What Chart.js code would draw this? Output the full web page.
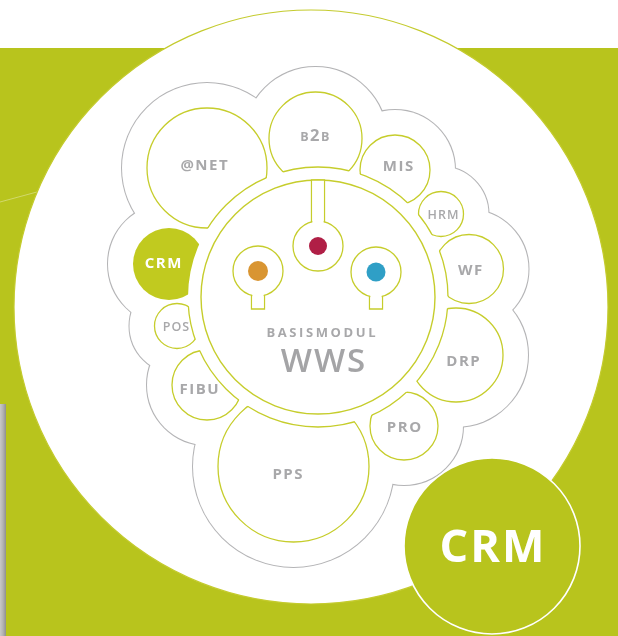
<!DOCTYPE html>
<html>
<head>
<meta charset="utf-8">
<script src="https://cdn.jsdelivr.net/npm/chart.js@4.4.1/dist/chart.umd.min.js"></script>
<style>
  html, body { margin: 0; padding: 0; background: #fff; }
  #wrap { width: 618px; height: 636px; }
</style>
</head>
<body>
<div id="wrap"><canvas id="chart" width="618" height="636"></canvas></div>
<script>
// --- diagram values (page units: x right, y down) ---
const moduleLabels = ['@NET', 'B2B', 'MIS', 'HRM', 'WF', 'DRP', 'PRO', 'PPS', 'FIBU', 'POS', 'CRM'];
const moduleX = [207, 315.5, 395, 441, 469, 456, 404, 293.5, 207, 177, 169];
const moduleY = [168, 138.5, 170, 214, 269, 355, 426, 466.5, 385, 326, 264];
const moduleR = [60, 46.5, 35, 22.5, 34.5, 47, 34, 75.5, 35, 22.5, 36];
const activeModule = 'CRM';

const coreX = [318];
const coreY = [297];
const coreR = [117];
const ringR = 130;          // modules are cut along this circle
const outlineGap = 25;      // grey contour sits this far outside each module
const outlineCoreR = 150;

const backdropX = [311];
const backdropY = [307];
const backdropR = [297];

const keyX = [258, 318, 376];
const keyY = [271, 246, 272];
const keyR = [25, 25, 25];
const keyStemEnd = [309, 180, 309];
const dotR = [10, 9, 9.5];

const badgeX = [492];
const badgeY = [546];
const badgeR = [88];
const badgeLabel = 'CRM';

const titleLines = ['BASISMODUL', 'WWS'];

// --- styles ---
const COLORS = {
    green: '#b8c41d',
    crm: '#c1ca1f',
    line: '#c6cd2c',
    grey: '#b4b4b6',
    text: '#a8a8aa',
    dots: ['#d99532', '#b01f46', '#2f9fc6']
};
const stemWidth = 13;
const topBand = 48;
const labelNudge = {
    '@NET': [-3, -3], 'B2B': [0, -4], 'MIS': [3, -4], 'HRM': [2, 0], 'WF': [1, 1],
    'DRP': [7, 6], 'PRO': [0, 1], 'PPS': [-6, 7], 'FIBU': [-8, 4], 'POS': [-1, 0], 'CRM': [-6, -1]
};
const smallLabels = ['HRM', 'POS'];
const FONT = '"Open Sans", "Noto Sans", sans-serif';

function pts(xs, ys, rs, pad = 0) {
    return xs.map((x, i) => ({ x, y: ys[i], r: rs[i] + pad }));
}

function unit(chart) {
    return chart.scales.x.getPixelForValue(1) - chart.scales.x.getPixelForValue(0);
}

function circlePath(ctx, x, y, r) {
    ctx.beginPath();
    ctx.arc(x, y, r, 0, Math.PI * 2);
}

// text with letter spacing, centred on x, caps centred on y
function spacedText(ctx, text, x, y, size, weight, color, spacing) {
    ctx.font = `${weight} ${size}px ${FONT}`;
    ctx.fillStyle = color;
    ctx.textAlign = 'center';
    ctx.textBaseline = 'alphabetic';
    if ('letterSpacing' in ctx) {
        ctx.letterSpacing = spacing + 'px';
        ctx.fillText(text, x + spacing / 2, y + size * 0.36);
        ctx.letterSpacing = '0px';
    } else {
        ctx.fillText(text, x, y + size * 0.36);
    }
}

const backdropPlugin = {
    id: 'backdrop',
    beforeDraw(chart) {
        const ctx = chart.ctx;
        const band = chart.scales.y.getPixelForValue(topBand);
        ctx.save();
        ctx.fillStyle = '#fff';
        ctx.fillRect(0, 0, chart.width, band);
        ctx.fillStyle = COLORS.green;
        ctx.fillRect(0, band, chart.width, chart.height - band);
        // strip of a photo at the left edge
        const g = ctx.createLinearGradient(0, 0, 6, 0);
        g.addColorStop(0, '#c9c9c9');
        g.addColorStop(0.5, '#b3b3b3');
        g.addColorStop(1, '#8f8f8f');
        ctx.fillStyle = g;
        ctx.fillRect(0, 404, 6, chart.height - 404);
        // faint hairline in the green
        ctx.strokeStyle = 'rgba(255,255,255,0.35)';
        ctx.lineWidth = 1;
        ctx.beginPath();
        ctx.moveTo(0, 202);
        ctx.lineTo(70, 183);
        ctx.stroke();
        ctx.restore();
    }
};

function drawModules(chart, meta) {
    const ctx = chart.ctx;
    const cx = chart.scales.x.getPixelForValue(coreX[0]);
    const cy = chart.scales.y.getPixelForValue(coreY[0]);
    const ring = ringR * unit(chart);
    meta.data.forEach((el, i) => {
        const r = el.options.radius;
        const active = moduleLabels[i] === activeModule;
        ctx.save();
        ctx.beginPath();
        ctx.rect(0, 0, chart.width, chart.height);
        ctx.arc(cx, cy, ring, 0, Math.PI * 2);
        ctx.clip('evenodd');
        circlePath(ctx, el.x, el.y, r);
        ctx.fillStyle = active ? COLORS.crm : '#fff';
        ctx.fill();
        if (!active) {
            ctx.lineWidth = 1.3;
            ctx.strokeStyle = COLORS.line;
            ctx.stroke();
        }
        ctx.restore();
        if (!active) {
            ctx.save();
            circlePath(ctx, el.x, el.y, r + 0.6);
            ctx.clip();
            circlePath(ctx, cx, cy, ring);
            ctx.lineWidth = 1.3;
            ctx.strokeStyle = COLORS.line;
            ctx.stroke();
            ctx.restore();
        }
    });
}

function drawKeyholes(chart, meta) {
    const ctx = chart.ctx;
    const half = stemWidth / 2 * unit(chart);
    ctx.save();
    ctx.lineWidth = 1.3;
    ctx.strokeStyle = COLORS.line;
    ctx.fillStyle = '#fff';
    meta.data.forEach((el, i) => {
        const r = el.options.radius;
        const endY = chart.scales.y.getPixelForValue(keyStemEnd[i]);
        const up = endY < el.y;
        const top = Math.min(endY, el.y);
        const h = Math.abs(endY - el.y);
        ctx.beginPath();
        ctx.rect(el.x - half, top, half * 2, h);
        ctx.fill();
        ctx.stroke();
        circlePath(ctx, el.x, el.y, r);
        ctx.fill();
        ctx.stroke();
        ctx.fillRect(el.x - half + 0.9, top + (up ? 1 : 0), half * 2 - 1.8, h - 1);
    });
    ctx.restore();
}

const shapesPlugin = {
    id: 'shapes',
    afterDatasetDraw(chart, args) {
        const id = chart.data.datasets[args.index].id;
        if (id === 'modules') drawModules(chart, args.meta);
        if (id === 'keyholes') drawKeyholes(chart, args.meta);
    }
};

const labelsPlugin = {
    id: 'labels',
    afterDatasetsDraw(chart) {
        const ctx = chart.ctx;
        const idx = chart.data.datasets.findIndex(d => d.id === 'modules');
        const meta = chart.getDatasetMeta(idx);
        ctx.save();
        meta.data.forEach((el, i) => {
            const name = moduleLabels[i];
            const [dx, dy] = labelNudge[name] || [0, 0];
            const x = el.x + dx, y = el.y + dy;
            const active = name === activeModule;
            const color = active ? '#fff' : COLORS.text;
            if (name === 'B2B') {
                // small caps b, full size 2
                const parts = [['B', 12.5], ['2', 16.5], ['B', 12.5]];
                let w = 0;
                parts.forEach(([t, s]) => { ctx.font = `700 ${s}px ${FONT}`; w += ctx.measureText(t).width + 1.5; });
                let cx = x - w / 2;
                parts.forEach(([t, s]) => {
                    ctx.font = `700 ${s}px ${FONT}`;
                    ctx.fillStyle = color;
                    ctx.textAlign = 'left';
                    ctx.textBaseline = 'alphabetic';
                    ctx.fillText(t, cx, y + 6);
                    cx += ctx.measureText(t).width + 1.5;
                });
                return;
            }
            if (smallLabels.includes(name)) {
                spacedText(ctx, name, x, y, 12.5, 600, color, 1);
            } else {
                spacedText(ctx, name, x, y, 15, 700, color, 1.5);
            }
        });
        // core title
        const tx = chart.scales.x.getPixelForValue(coreX[0]) + 3;
        const ty = chart.scales.y.getPixelForValue(coreY[0]);
        spacedText(ctx, titleLines[0], tx, ty + 35, 13, 700, COLORS.text, 2.6);
        spacedText(ctx, titleLines[1], tx + 2, ty + 63, 33, 600, '#a4a4a6', 2);
        // badge
        const bIdx = chart.data.datasets.findIndex(d => d.id === 'badge');
        const b = chart.getDatasetMeta(bIdx).data[0];
        spacedText(ctx, badgeLabel, b.x, b.y, 45, 700, '#fff', 2);
        ctx.restore();
    }
};

// bottom-to-top layers
const layers = [
    { id: 'backdrop', data: pts(backdropX, backdropY, backdropR), backgroundColor: '#fff', borderColor: '#c4cb2e', borderWidth: 1.2 },
    { id: 'outlineStroke', data: pts(moduleX.concat(coreX), moduleY.concat(coreY), moduleR.concat([outlineCoreR - outlineGap]), outlineGap), backgroundColor: '#fff', borderColor: COLORS.grey, borderWidth: 2 },
    { id: 'outlineFill', data: pts(moduleX.concat(coreX), moduleY.concat(coreY), moduleR.concat([outlineCoreR - outlineGap]), outlineGap), backgroundColor: '#fff', borderWidth: 0 },
    { id: 'modules', data: pts(moduleX, moduleY, moduleR), backgroundColor: 'rgba(0,0,0,0)', borderWidth: 0 },
    { id: 'core', data: pts(coreX, coreY, coreR), backgroundColor: '#fff', borderColor: COLORS.line, borderWidth: 1.4 },
    { id: 'keyholes', data: pts(keyX, keyY, keyR), backgroundColor: 'rgba(0,0,0,0)', borderWidth: 0 },
    { id: 'dots', data: pts(keyX, keyY, dotR), backgroundColor: COLORS.dots, borderWidth: 0 },
    { id: 'badge', data: pts(badgeX, badgeY, badgeR), backgroundColor: COLORS.green, borderColor: '#fff', borderWidth: 1.6 }
];
const datasets = layers.map((l, i) => Object.assign({ order: layers.length - i, clip: false, hoverRadius: 0 }, l));

new Chart(document.getElementById('chart').getContext('2d'), {
    type: 'bubble',
    data: { datasets },
    options: {
        responsive: false,
        animation: false,
        devicePixelRatio: 1,
        events: [],
        layout: { padding: 0, autoPadding: false },
        scales: {
            x: { type: 'linear', min: 0, max: 618, display: false },
            y: { type: 'linear', min: 0, max: 636, reverse: true, display: false }
        },
        plugins: { legend: { display: false }, tooltip: { enabled: false } }
    },
    plugins: [backdropPlugin, shapesPlugin, labelsPlugin]
});
</script>
</body>
</html>
